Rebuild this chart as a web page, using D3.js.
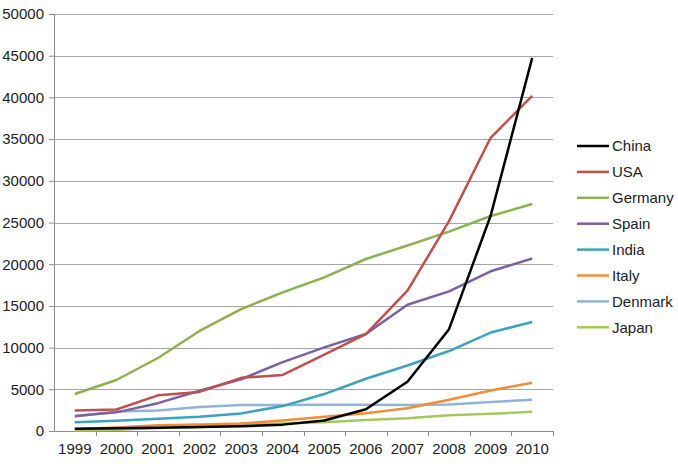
<!DOCTYPE html>
<meta charset="utf-8">
<head>
<style>
  body { margin: 0; background: #fff; }
  text { font-family: "Liberation Sans", Arial, sans-serif; fill: #222; }
</style>
</head>
<script src="https://d3js.org/d3.v7.min.js"></script>
<div id="my_dataviz"></div>
<script>

// years on the x axis
var years = ["1999","2000","2001","2002","2003","2004","2005","2006","2007","2008","2009","2010"];

// installed capacity per country (MW)
var china   = [262, 340, 404, 470, 568, 764, 1266, 2599, 5912, 12210, 25805, 44733];
var usa     = [2445, 2578, 4275, 4685, 6372, 6725, 9149, 11603, 16819, 25170, 35159, 40180];
var germany = [4442, 6113, 8754, 11994, 14609, 16629, 18415, 20622, 22247, 23903, 25777, 27214];
var spain   = [1812, 2235, 3337, 4825, 6203, 8263, 10028, 11630, 15145, 16740, 19149, 20676];
var india   = [1035, 1220, 1456, 1702, 2110, 2985, 4430, 6270, 7850, 9587, 11807, 13065];
var italy   = [211, 427, 682, 788, 904, 1266, 1718, 2123, 2726, 3736, 4850, 5797];
var denmark = [1738, 2341, 2456, 2880, 3110, 3124, 3136, 3140, 3129, 3164, 3465, 3752];
var japan   = [68, 142, 357, 486, 761, 896, 1040, 1309, 1528, 1880, 2056, 2304];

var yTicks = [0, 5000, 10000, 15000, 20000, 25000, 30000, 35000, 40000, 45000, 50000];

var series = [
  {name: "China",   values: china,   color: "#000000"},
  {name: "USA",     values: usa,     color: "#c0504d"},
  {name: "Germany", values: germany, color: "#8fb04e"},
  {name: "Spain",   values: spain,   color: "#7a62a0"},
  {name: "India",   values: india,   color: "#3ba3bd"},
  {name: "Italy",   values: italy,   color: "#f28c3a"},
  {name: "Denmark", values: denmark, color: "#93b2d8"},
  {name: "Japan",   values: japan,   color: "#a4c85c"}
];

// plot area
var margin = {top: 14, left: 54},
    width = 499,
    height = 417;

var svg = d3.select("#my_dataviz")
  .append("svg")
    .attr("width", 678)
    .attr("height", 464);

var g = svg.append("g")
  .attr("transform", "translate(" + margin.left + "," + margin.top + ")");

var x = d3.scaleBand()
  .domain(years)
  .range([0, width]);

var y = d3.scaleLinear()
  .domain([0, 50000])
  .range([height, 0]);

// gridlines
g.selectAll(".grid")
  .data(yTicks.slice(1))
  .enter()
  .append("line")
    .attr("x1", 0)
    .attr("x2", width)
    .attr("y1", function(d) { return Math.round(y(d)) + 0.5; })
    .attr("y2", function(d) { return Math.round(y(d)) + 0.5; })
    .attr("stroke", "#a6a6a6")
    .attr("stroke-width", 1);

// Y axis
var yAxis = g.append("g")
  .call(d3.axisLeft(y).tickValues(yTicks).tickSize(5).tickPadding(5).tickFormat(d3.format("d")));
yAxis.select(".domain").attr("stroke", "#8c8c8c");
yAxis.selectAll(".tick line").attr("stroke", "#8c8c8c");
yAxis.selectAll("text").style("font-size", "15px");

// X axis, ticks sit between the categories
var xAxis = g.append("g")
  .attr("transform", "translate(0," + height + ")")
  .call(d3.axisBottom(x).tickSize(0).tickPadding(12));
xAxis.select(".domain").attr("stroke", "#8c8c8c");
xAxis.selectAll("text").style("font-size", "15px");

xAxis.selectAll(".sep")
  .data(years.slice(1).concat(["end"]))
  .enter()
  .append("line")
    .attr("x1", function(d, i) { return Math.round(x.step() * (i + 1)) + 0.5; })
    .attr("x2", function(d, i) { return Math.round(x.step() * (i + 1)) + 0.5; })
    .attr("y1", 0)
    .attr("y2", 5)
    .attr("stroke", "#8c8c8c");

// lines, drawn last series first so China sits on top
var line = d3.line()
  .x(function(d, i) { return x(years[i]) + x.bandwidth() / 2; })
  .y(function(d) { return y(d); });

g.selectAll(".series")
  .data(series.slice().reverse())
  .enter()
  .append("path")
    .attr("d", function(d) { return line(d.values); })
    .attr("fill", "none")
    .attr("stroke", function(d) { return d.color; })
    .attr("stroke-width", 2.5)
    .attr("stroke-linejoin", "round");

// legend
var legend = svg.append("g")
  .attr("transform", "translate(577,146)");

var item = legend.selectAll(".item")
  .data(series)
  .enter()
  .append("g")
    .attr("transform", function(d, i) { return "translate(0," + (i * 25.9) + ")"; });

item.append("line")
  .attr("x1", 0)
  .attr("x2", 32)
  .attr("stroke", function(d) { return d.color; })
  .attr("stroke-width", 2.5);

item.append("text")
  .attr("x", 35)
  .attr("dy", "0.35em")
  .style("font-size", "15px")
  .text(function(d) { return d.name; });

</script>
